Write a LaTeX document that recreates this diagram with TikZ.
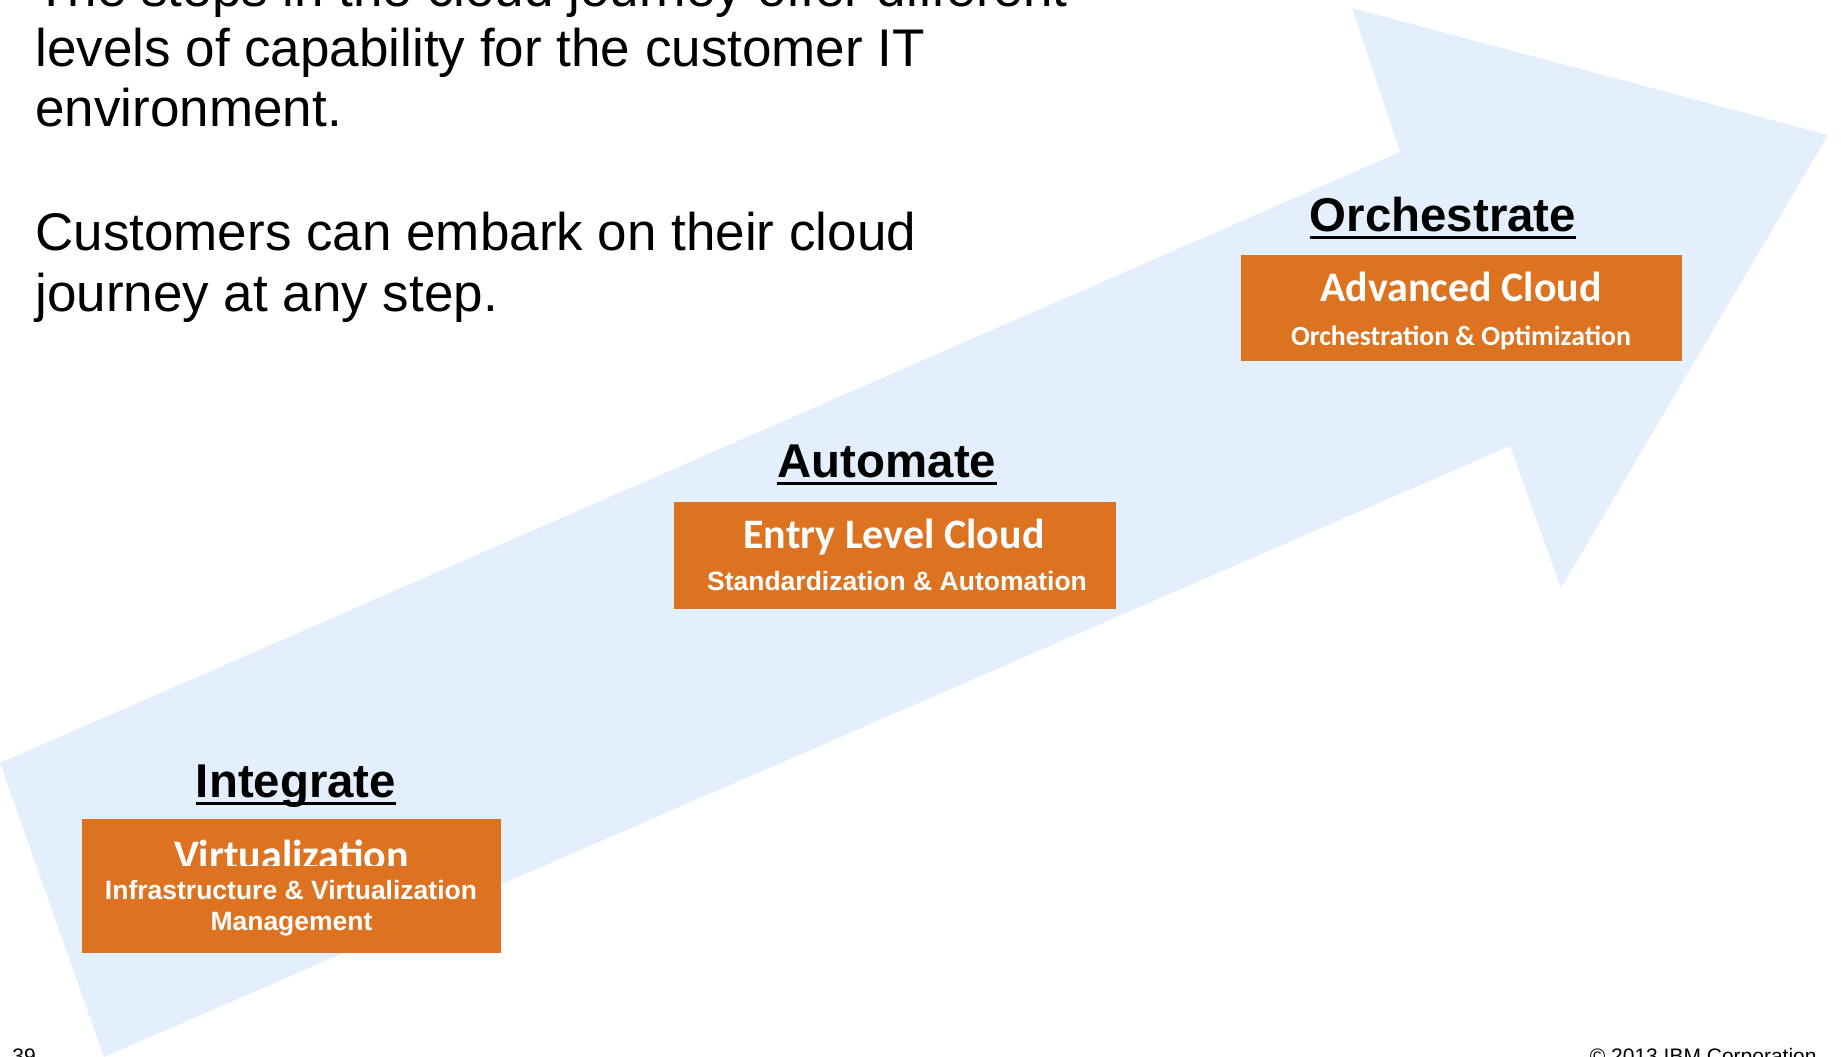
\documentclass[tikz,border=0pt]{standalone}
\usepackage{fontspec}
\setmainfont{Liberation Sans}
\newfontfamily\carlito{Carlito}

\definecolor{arrowblue}{RGB}{227,239,253}
\definecolor{boxorange}{RGB}{221,115,32}

\tikzset{
  bodytext/.style={anchor=base west, inner sep=0pt, font=\fontsize{26.5}{30}\selectfont},
  heading/.style={anchor=base, inner sep=0pt, font=\bfseries\fontsize{23.7}{28}\selectfont},
  underbar/.style={line width=1.5pt},
  boxtitle/.style={anchor=base, inner sep=0pt, text=white, font=\carlito\bfseries\fontsize{21}{25}\selectfont},
  boxsub/.style={anchor=base, inner sep=0pt, text=white, font=\bfseries\fontsize{13.25}{16}\selectfont},
  boxsubcal/.style={anchor=base, inner sep=0pt, text=white, font=\carlito\bfseries\fontsize{13.9}{17}\selectfont},
  footer/.style={inner sep=0pt, font=\fontsize{10.5}{12}\selectfont}
}

\begin{document}
\begin{tikzpicture}[x=0.5pt,y=-0.5pt]
        \useasboundingbox (0,0) rectangle (1841,1056);

        % Big light blue arrow in the back
        \fill[arrowblue] (0,763) -- (104,1057) -- (1510,446) -- (1561,588)
            -- (1828,135) -- (1352,8) -- (1400,152) -- cycle;

        % Intro text top left
        \node[bodytext] (line1) at (35,6) {The steps in the cloud journey offer different};
        \node[bodytext] (line2) at (35,66) {levels of capability for the customer IT};
        \node[bodytext] (line3) at (35,126) {environment.};
        \node[bodytext] (line4) at (35,250) {Customers can embark on their cloud};
        \node[bodytext] (line5) at (35,311) {journey at any step.};

        % Step 1
        \node[heading] (integrate) at (296,797) {Integrate};
        \draw[underbar] ([yshift=-3.3pt]integrate.base west) -- ([yshift=-3.3pt]integrate.base east);
        \fill[boxorange] (82,819) rectangle (501,953);
        \begin{scope}
            \clip (82,819) rectangle (501,865);
            \node[boxtitle] (virt) at (291.5,869) {Virtualization};
        \end{scope}
        \node[boxsub] (virtsub) at (291,899) {Infrastructure \& Virtualization};
        \node[boxsub] (virtmgmt) at (291.5,930) {Management};

        % Step 2
        \node[heading] (automate) at (887,477) {Automate};
        \draw[underbar] ([yshift=-3.3pt]automate.base west) -- ([yshift=-3.3pt]automate.base east);
        \fill[boxorange] (674,502) rectangle (1116,609);
        \node[boxtitle] (entry) at (894,548) {Entry Level Cloud};
        \node[boxsub] (entrysub) at (897,590) {Standardization \& Automation};

        % Step 3
        \node[heading] (orchestrate) at (1443,231) {Orchestrate};
        \draw[underbar] ([yshift=-3.3pt]orchestrate.base west) -- ([yshift=-3.3pt]orchestrate.base east);
        \fill[boxorange] (1241,255) rectangle (1682,361);
        \node[boxtitle] (adv) at (1461,301) {Advanced Cloud};
        \node[boxsubcal] (advsub) at (1461,345) {Orchestration \& Optimization};

        % Footer
        \node[footer, anchor=base west] (pagenum) at (12,1063) {39};
        \node[footer, anchor=base east] (copyright) at (1817,1063) {© 2013 IBM Corporation};
\end{tikzpicture}
\end{document}
